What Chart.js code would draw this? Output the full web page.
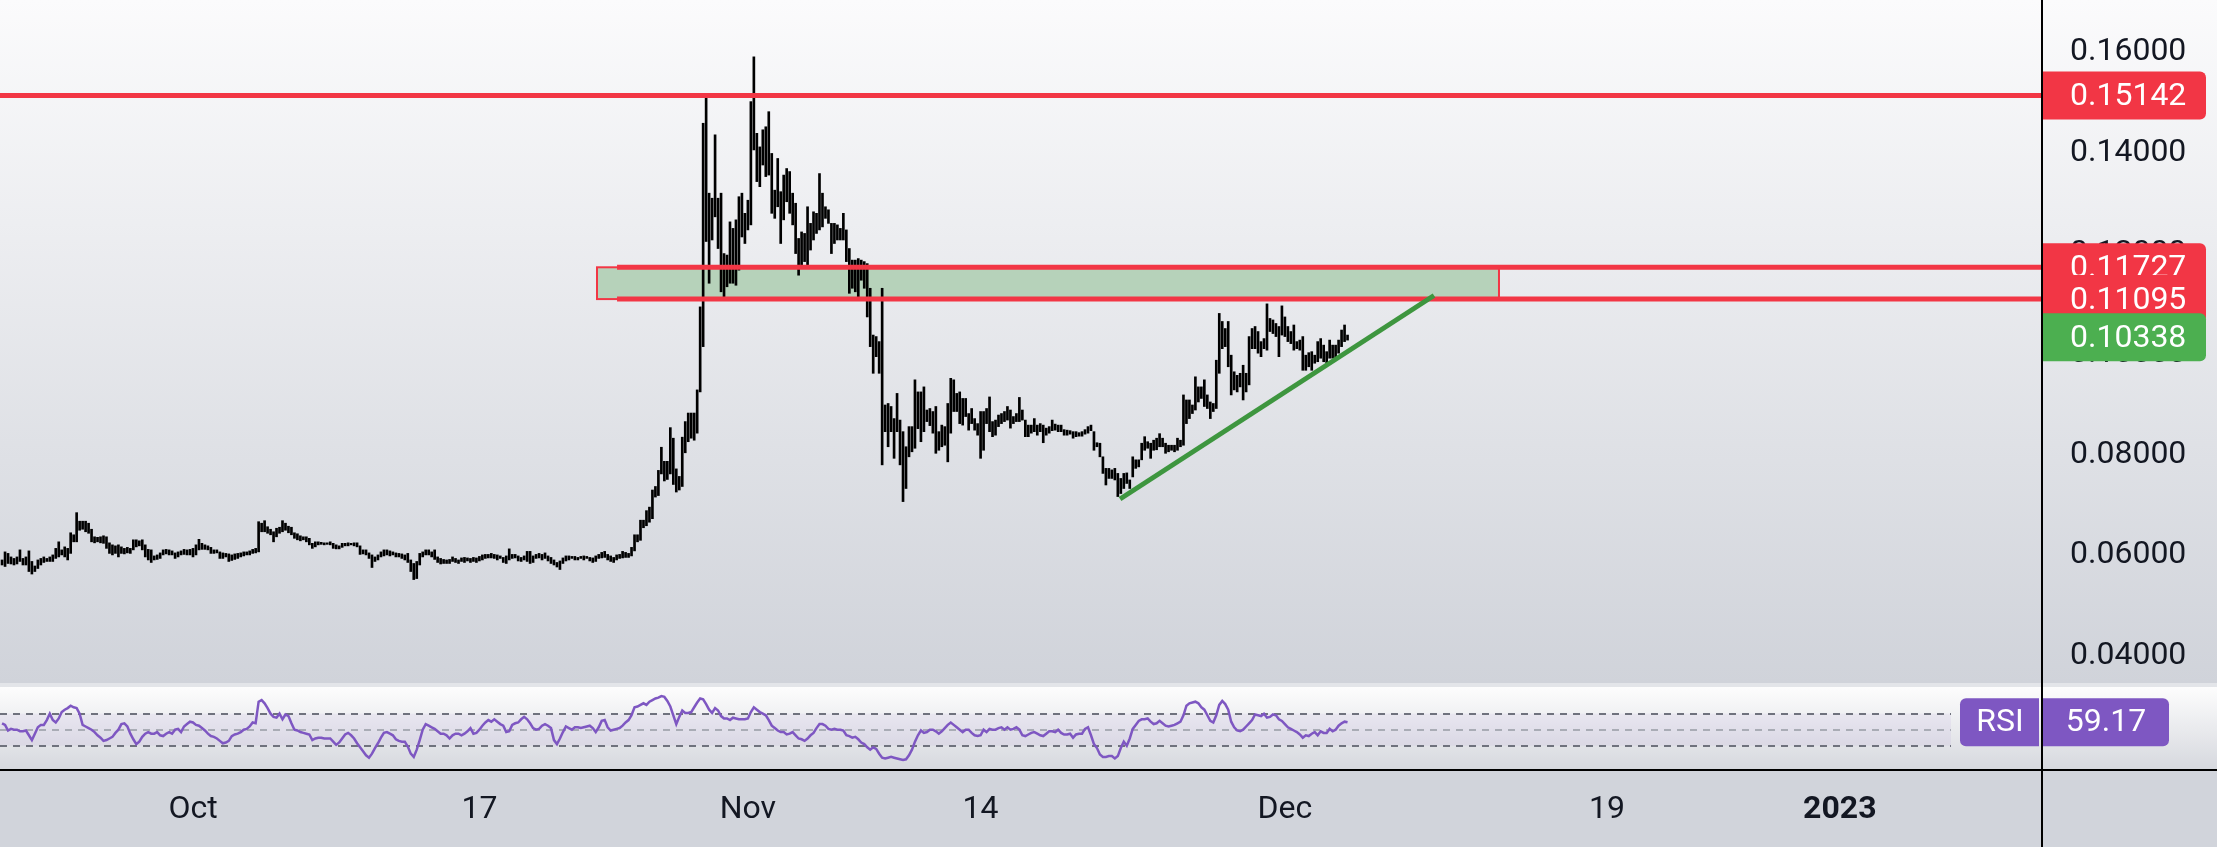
<!DOCTYPE html>
<html>
<head>
<meta charset="utf-8">
<script src="https://cdn.jsdelivr.net/npm/chart.js@4.4.1/dist/chart.umd.min.js"></script>
<style>
    html, body { margin: 0; padding: 0; background: #e3e5e9; overflow: hidden; }
    #wrap { position: relative; width: 2217px; height: 847px; }
    canvas { position: absolute; left: 0; }
    #priceCanvas { top: 0; }
    #rsiCanvas { top: 685px; }
</style>
</head>
<body>
<div id="wrap">
    <canvas id="priceCanvas" width="2217" height="685"></canvas>
    <canvas id="rsiCanvas" width="2217" height="162"></canvas>
</div>
<script>
'use strict';

// 4h bars, x in days from Oct 1 00:00, first bar Sep 20 08:00
var firstBarDay = -10.667;
var barsPerDay = 6;

// bar high / low, price in units of 0.0001
var barHigh = [
    591,607,604,597,594,597,611,594,597,609, 588,579,591,594,597,594,597,601,614,627,
    611,617,614,645,641,685,668,668,668,664, 652,637,636,637,639,637,625,621,619,621,
    617,614,616,614,631,631,629,631,621,612, 611,599,601,605,611,612,611,609,605,607,
    609,612,611,612,614,621,632,624,621,619, 616,611,611,607,605,604,603,
    601,603,604,605,607,607,609,612,614,667, 664,669,657,652,647,654,656,669,664,658,
    656,645,643,639,637,637,634,624,627,627, 626,625,625,627,624,621,619,624,624,625,
    624,625,625,619,611,611,605,601,597,601, 607,611,611,609,607,605,604,603,601,604,
    591,584,588,604,607,611,611,607,611,597, 594,592,591,592,597,594,591,
    595,596,595,594,596,595,598,601,602,602, 604,602,601,599,596,599,613,602,602,599,
    596,599,608,608,599,602,604,602,605,599, 596,591,586,589,595,599,599,598,598,596,
    598,599,598,596,595,599,602,606,608,602, 599,596,601,602,608,606,604,616,641,641,
    670,670,689,696,730,737,769,815,787,787, 854,833,772,757,835,866,883,883,883,929,
    1094,1459,1515,1320,1310,1436,1310,1320,1200,1197, 1263,1250,1267,1313,1320,1280,1306,1502,1591,1439,
    1412,1446,1452,1482,1399,1326,1389,1323,1356,1369, 1363,1320,1300,1230,1243,1240,1293,1260,1283,1280,
    1359,1320,1293,1287,1260,1260,1257,1250,1280,1247, 1210,1187,1187,1190,1187,1184,1180,1131,1038,1035,
    1025,1131,899,902,896,872,922,869,846,816, 856,856,949,925,925,935,889,892,
    886,896,846,859,856,902,952,949,922,925, 912,912,882,892,872,862,886,886,892,915,
    866,869,879,882,886,896,889,876,882,914, 889,869,859,859,872,859,862,859,853,856,
    869,861,859,859,850,849,848,846,846,844, 846,850,856,859,846,824,823,796,773,773,
    770,773,763,753,763,764,750,796,790,790, 823,836,826,823,829,833,
    842,833,823,819,819,819,833,829,919,909, 909,899,955,935,935,949,919,905,902,988,
    1081,1065,1051,1065,998,965,958,962,978,962, 1035,1051,1055,1045,1025,1031,1100,1071,1068,1061,
    1055,1096,1074,1055,1045,1058,1025,1028,1035,998, 1003,1005,998,1025,1031,1018,1005,1028,1018,1018,
    1028,1048,1058,1038
];
var barLow = [
    581,578,584,583,581,583,588,581,581,568, 563,568,574,581,586,588,588,588,594,597,
    601,597,591,604,627,627,650,652,647,644, 627,625,627,625,624,614,604,601,604,597,
    604,603,605,604,611,617,619,611,597,591, 586,591,592,594,601,603,601,601,594,597,
    601,602,601,601,597,601,611,612,612,611, 604,604,605,594,594,597,588,
    590,592,594,597,599,601,601,604,605,607, 647,647,644,641,627,637,644,647,650,645,
    641,634,631,629,631,627,621,614,617,621, 622,621,622,621,614,613,613,616,619,619,
    621,619,617,602,603,601,594,576,588,591, 597,599,601,599,601,597,597,594,591,586,
    568,552,554,581,597,601,601,597,592,586, 583,584,584,584,588,586,584,
    588,586,589,586,588,586,589,591,594,595, 595,594,591,594,586,584,591,594,595,589,
    588,591,588,584,586,594,595,591,594,589, 584,581,577,572,584,589,591,594,591,591,
    594,591,594,589,586,588,594,595,596,591, 588,586,591,594,595,596,596,599,609,627,
    630,655,659,666,673,716,719,762,748,751, 762,741,726,730,737,804,826,833,829,843,
    925,1015,1224,1141,1227,1273,1210,1124,1114,1134, 1141,1141,1137,1167,1233,1220,1247,1257,1406,1343,
    1333,1376,1353,1356,1280,1270,1293,1220,1267,1303, 1280,1257,1200,1157,1174,1184,1171,1207,1227,1240,
    1247,1253,1270,1260,1200,1220,1227,1227,1227,1184, 1121,1131,1124,1111,1147,1131,1074,1015,962,995,
    962,780,846,816,846,793,846,780,707,733, 796,806,813,852,826,846,866,858,
    843,803,809,816,819,786,843,886,886,862, 859,876,849,862,849,839,793,809,862,846,
    836,839,856,862,866,869,853,862,866,866, 869,836,836,843,846,839,846,824,839,843,
    848,849,846,846,839,839,841,833,836,837, 837,841,843,848,809,816,796,763,740,753,
    753,750,717,723,733,743,733,756,773,776, 790,809,813,793,809,810,
    816,816,803,806,809,806,809,816,819,862, 872,882,889,905,912,896,892,872,886,892,
    962,1011,1015,975,919,929,925,935,909,925, 939,1011,1011,1002,995,1011,1008,1045,1041,1035,
    995,1038,1035,1025,1021,1008,1011,1008,968,968, 975,968,982,985,992,985,982,992,992,992,
    1002,1015,1025,1028
];
var rsiValues = [
    58,56,49,51,50,50,48,48,49,43, 37,45,53,56,56,62,70,62,59,64,
    72,75,77,80,78,77,70,56,54,52, 50,47,43,40,36,37,39,41,46,50,
    57,58,54,45,38,32,35,41,45,47, 45,45,47,43,42,45,47,45,50,51,
    47,54,57,60,59,56,55,52,49,45, 42,41,39,36,33,34,36,42,44,45,
    47,50,51,54,59,58,85,87,83,77, 70,66,65,70,63,69,67,58,50,49,
    47,46,45,44,37,39,40,40,39,39, 39,35,31,34,39,44,46,43,39,33,
    28,23,18,15,20,27,33,40,46,47, 45,43,38,36,35,35,29,20,16,25,
    37,50,57,55,53,51,48,45,45,43, 39,43,45,45,43,45,48,52,45,46,
    50,55,59,62,60,63,60,57,55,47, 48,56,58,59,63,66,63,58,52,50,
    51,55,57,55,52,37,32,39,47,54, 52,50,53,53,52,53,54,55,52,47,
    53,61,62,53,49,50,51,52,55,59, 62,68,78,79,81,83,81,85,87,89,
    90,92,91,86,79,68,57,66,74,71, 71,72,78,84,89,88,82,75,71,77,
    74,67,64,64,62,65,64,63,63,63, 64,72,78,75,72,70,68,62,55,52,
    49,47,47,44,45,47,43,39,38,36, 39,43,46,52,57,57,55,51,50,51,
    50,50,49,43,42,40,41,38,34,32, 28,25,28,26,20,15,14,15,16,15,
    14,13,12,13,18,25,35,43,49,46, 47,50,50,48,45,48,52,56,59,56,
    53,50,47,50,50,46,43,42,43,50, 47,51,50,50,52,53,50,53,50,51,
    53,50,43,42,44,46,47,45,43,42, 45,48,48,47,50,46,44,44,45,40,
    44,45,45,51,53,43,32,27,19,16, 16,17,17,14,17,27,35,30,39,51,
    56,61,63,63,64,60,57,58,61,58, 55,54,55,56,58,60,68,80,83,84,
    85,83,78,75,68,61,59,68,81,86, 82,75,60,53,49,48,50,54,58,62,
    69,68,67,70,65,66,69,68,63,61, 57,53,51,49,47,44,40,43,42,45,
    47,43,48,46,46,51,48,50,55,58, 60,59.17
];

var tickDays = [0, 16, 31, 44, 61, 79, 92];
var tickLabels = ['Oct', '17', 'Nov', '14', 'Dec', '19', '2023'];
var priceTicks = [0.04, 0.06, 0.08, 0.10, 0.12, 0.14, 0.16];
var rsiLevels = [70, 50, 30];

var levels = [0.15142, 0.11727, 0.11095];
var lastPrice = 0.10338;
var lastRsi = 59.17;
var zone = { from: 22.57, to: 72.96, top: 0.11727, bottom: 0.11095 };
var zoneLinesFrom = 23.69;
var trendLine = [{ x: 51.79, y: 0.07121 }, { x: 69.33, y: 0.11166 }];

var dayMin = -10.782, dayMax = 103.296;
var priceMin = 0.03464, priceMax = 0.1704;
var rsiMin = -0.4, rsiMax = 103.35;

var RED = '#f23645', GREEN = '#4caf50', PURPLE = '#7e57c2', TEXT = '#131722';
var FONT = 'Roboto';

Chart.defaults.font.family = FONT;
Chart.defaults.color = TEXT;

var bars = barHigh.map(function (h, i) {
    return { x: firstBarDay + i / barsPerDay, y: [barLow[i] / 10000, h / 10000] };
});
var rsiPoints = rsiValues.map(function (v, i) {
    return { x: firstBarDay + i / barsPerDay, y: v };
});

function noPad(s) {
    s.paddingTop = 0; s.paddingBottom = 0; s.paddingLeft = 0; s.paddingRight = 0;
}

function box(ctx, x, y, w, h, radii, color) {
    ctx.fillStyle = color;
    ctx.beginPath();
    ctx.roundRect(x, y, w, h, radii);
    ctx.fill();
}

var pricePane = {
    id: 'pricePane',
    beforeDraw: function (chart) {
        var ctx = chart.ctx, a = chart.chartArea;
        ctx.save();
        ctx.fillStyle = '#e3e5e9';
        ctx.fillRect(0, 0, chart.width, chart.height);
        var g = ctx.createLinearGradient(0, 0, 0, a.bottom);
        g.addColorStop(0, '#fbfbfc');
        g.addColorStop(1, '#d0d3da');
        ctx.fillStyle = g;
        ctx.fillRect(0, 0, chart.width, a.bottom);
        ctx.restore();
    },
    beforeDatasetsDraw: function (chart) {
        var ctx = chart.ctx, xs = chart.scales.x, ys = chart.scales.y;
        var l = xs.getPixelForValue(zone.from), r = xs.getPixelForValue(zone.to);
        var t = ys.getPixelForValue(zone.top), b = ys.getPixelForValue(zone.bottom);
        ctx.save();
        ctx.fillStyle = '#b6d2ba';
        ctx.fillRect(l, t, r - l, b - t);
        ctx.strokeStyle = RED;
        ctx.lineWidth = 2;
        ctx.strokeRect(l, t, r - l, b - t);
        ctx.restore();
    },
    afterDraw: function (chart) {
        var ctx = chart.ctx, ys = chart.scales.y, ax = chart.chartArea.right;
        var tags = [[levels[0], RED], [levels[1], RED], [levels[2], RED], [lastPrice, GREEN]];
        ctx.save();
        ctx.font = '32px ' + FONT;
        ctx.textBaseline = 'middle';
        ctx.textAlign = 'left';
        tags.forEach(function (t) {
            var cy = ys.getPixelForValue(t[0]);
            box(ctx, ax - 1, cy - 24, 165, 48, [0, 6, 6, 0], t[1]);
            ctx.fillStyle = '#ffffff';
            ctx.fillText(t[0].toFixed(5), ax + 28, cy + 2);
        });
        ctx.fillStyle = '#000000';
        ctx.fillRect(ax - 1, 0, 2, chart.height);
        ctx.restore();
    }
};

new Chart(document.getElementById('priceCanvas'), {
    type: 'bar',
    data: {
        datasets: [{
                type: 'line',
                data: trendLine,
                borderColor: '#3e963f',
                borderWidth: 5,
                pointRadius: 0,
                order: 0
            }, {
                type: 'line',
                data: [{ x: dayMin, y: levels[0] }, { x: dayMax, y: levels[0] }],
                borderColor: RED,
                borderWidth: 5,
                pointRadius: 0,
                order: 1
            }, {
                type: 'line',
                data: [{ x: zoneLinesFrom, y: levels[1] }, { x: dayMax, y: levels[1] }],
                borderColor: RED,
                borderWidth: 5,
                pointRadius: 0,
                order: 1
            }, {
                type: 'line',
                data: [{ x: zoneLinesFrom, y: levels[2] }, { x: dayMax, y: levels[2] }],
                borderColor: RED,
                borderWidth: 5,
                pointRadius: 0,
                order: 1
            }, {
                type: 'bar',
                data: bars,
                backgroundColor: '#000000',
                barThickness: 2,
                order: 5
            }
        ]
    },
    options: {
        responsive: false,
        animation: false,
        devicePixelRatio: 1,
        layout: { padding: { top: 0, bottom: 2, left: 0, right: 0 } },
        plugins: { legend: { display: false }, tooltip: { enabled: false } },
        scales: {
            x: { type: 'linear', min: dayMin, max: dayMax, offset: false, display: false },
            y: {
                position: 'right',
                min: priceMin,
                max: priceMax,
                grid: { display: false, drawTicks: false },
                border: { display: false },
                afterBuildTicks: function (s) {
                    s.ticks = priceTicks.map(function (v) { return { value: v }; });
                },
                afterFit: function (s) { s.width = 175; noPad(s); },
                ticks: {
                    padding: 28,
                    color: TEXT,
                    font: { size: 32 },
                    callback: function (v) { return Number(v).toFixed(5); }
                }
            }
        }
    },
    plugins: [pricePane]
});

var rsiPane = {
    id: 'rsiPane',
    beforeDraw: function (chart) {
        var ctx = chart.ctx, a = chart.chartArea;
        ctx.save();
        ctx.fillStyle = '#e3e5e9';
        ctx.fillRect(0, 0, chart.width, a.top);
        var g = ctx.createLinearGradient(0, a.top, 0, a.bottom);
        g.addColorStop(0, '#fdfdfd');
        g.addColorStop(1, '#d6d8de');
        ctx.fillStyle = g;
        ctx.fillRect(0, a.top, chart.width, a.bottom - a.top);
        ctx.fillStyle = '#d1d4db';
        ctx.fillRect(0, a.bottom, chart.width, chart.height - a.bottom);
        ctx.restore();
    },
    beforeDatasetsDraw: function (chart) {
        var ctx = chart.ctx, ys = chart.scales.y, a = chart.chartArea;
        var endX = a.right - 91;
        ctx.save();
        ctx.fillStyle = 'rgba(126, 87, 194, 0.07)';
        var y70 = ys.getPixelForValue(rsiLevels[0]), y30 = ys.getPixelForValue(rsiLevels[2]);
        ctx.fillRect(0, y70, endX, y30 - y70);
        ctx.setLineDash([7, 6]);
        ctx.lineWidth = 2;
        rsiLevels.forEach(function (v, i) {
            var y = Math.round(ys.getPixelForValue(v));
            ctx.strokeStyle = i === 1 ? '#a9acb5' : '#6f727d';
            ctx.beginPath();
            ctx.moveTo(0, y);
            ctx.lineTo(endX, y);
            ctx.stroke();
        });
        ctx.restore();
    },
    afterDraw: function (chart) {
        var ctx = chart.ctx, ys = chart.scales.y, a = chart.chartArea, ax = a.right;
        var cy = ys.getPixelForValue(lastRsi);
        ctx.save();
        box(ctx, ax - 82, cy - 24, 79, 48, [6, 0, 0, 6], PURPLE);
        box(ctx, ax + 1, cy - 24, 126, 48, [0, 6, 6, 0], PURPLE);
        ctx.fillStyle = '#ffffff';
        ctx.font = '32px ' + FONT;
        ctx.textBaseline = 'middle';
        ctx.textAlign = 'center';
        ctx.fillText('RSI', ax - 42, cy + 1);
        ctx.fillText(lastRsi.toFixed(2), ax + 64, cy + 1);
        ctx.fillStyle = '#000000';
        ctx.fillRect(0, a.bottom - 1, chart.width, 2);
        ctx.fillRect(ax - 1, 0, 2, chart.height);
        ctx.restore();
    }
};

new Chart(document.getElementById('rsiCanvas'), {
    type: 'line',
    data: {
        datasets: [{
                data: rsiPoints,
                borderColor: PURPLE,
                borderWidth: 2.5,
                pointRadius: 0,
                tension: 0
            }]
    },
    options: {
        responsive: false,
        animation: false,
        devicePixelRatio: 1,
        layout: { padding: { top: 2, bottom: 0, left: 0, right: 0 } },
        plugins: { legend: { display: false }, tooltip: { enabled: false } },
        scales: {
            x: {
                type: 'linear',
                min: dayMin,
                max: dayMax,
                offset: false,
                grid: { display: false, drawTicks: false },
                border: { display: false },
                afterBuildTicks: function (s) {
                    s.ticks = tickDays.map(function (v) { return { value: v }; });
                },
                afterFit: function (s) { s.height = 77; noPad(s); },
                ticks: {
                    padding: 21,
                    autoSkip: false,
                    maxRotation: 0,
                    color: TEXT,
                    font: function (c) {
                        var bold = c.tick && c.tick.value === 92;
                        return { size: 32, weight: bold ? 'bold' : 'normal' };
                    },
                    callback: function (v) { return tickLabels[tickDays.indexOf(v)]; }
                }
            },
            y: {
                position: 'right',
                min: rsiMin,
                max: rsiMax,
                grid: { display: false, drawTicks: false },
                border: { display: false },
                ticks: { display: false },
                afterFit: function (s) { s.width = 175; noPad(s); }
            }
        }
    },
    plugins: [rsiPane]
});
</script>
</body>
</html>
